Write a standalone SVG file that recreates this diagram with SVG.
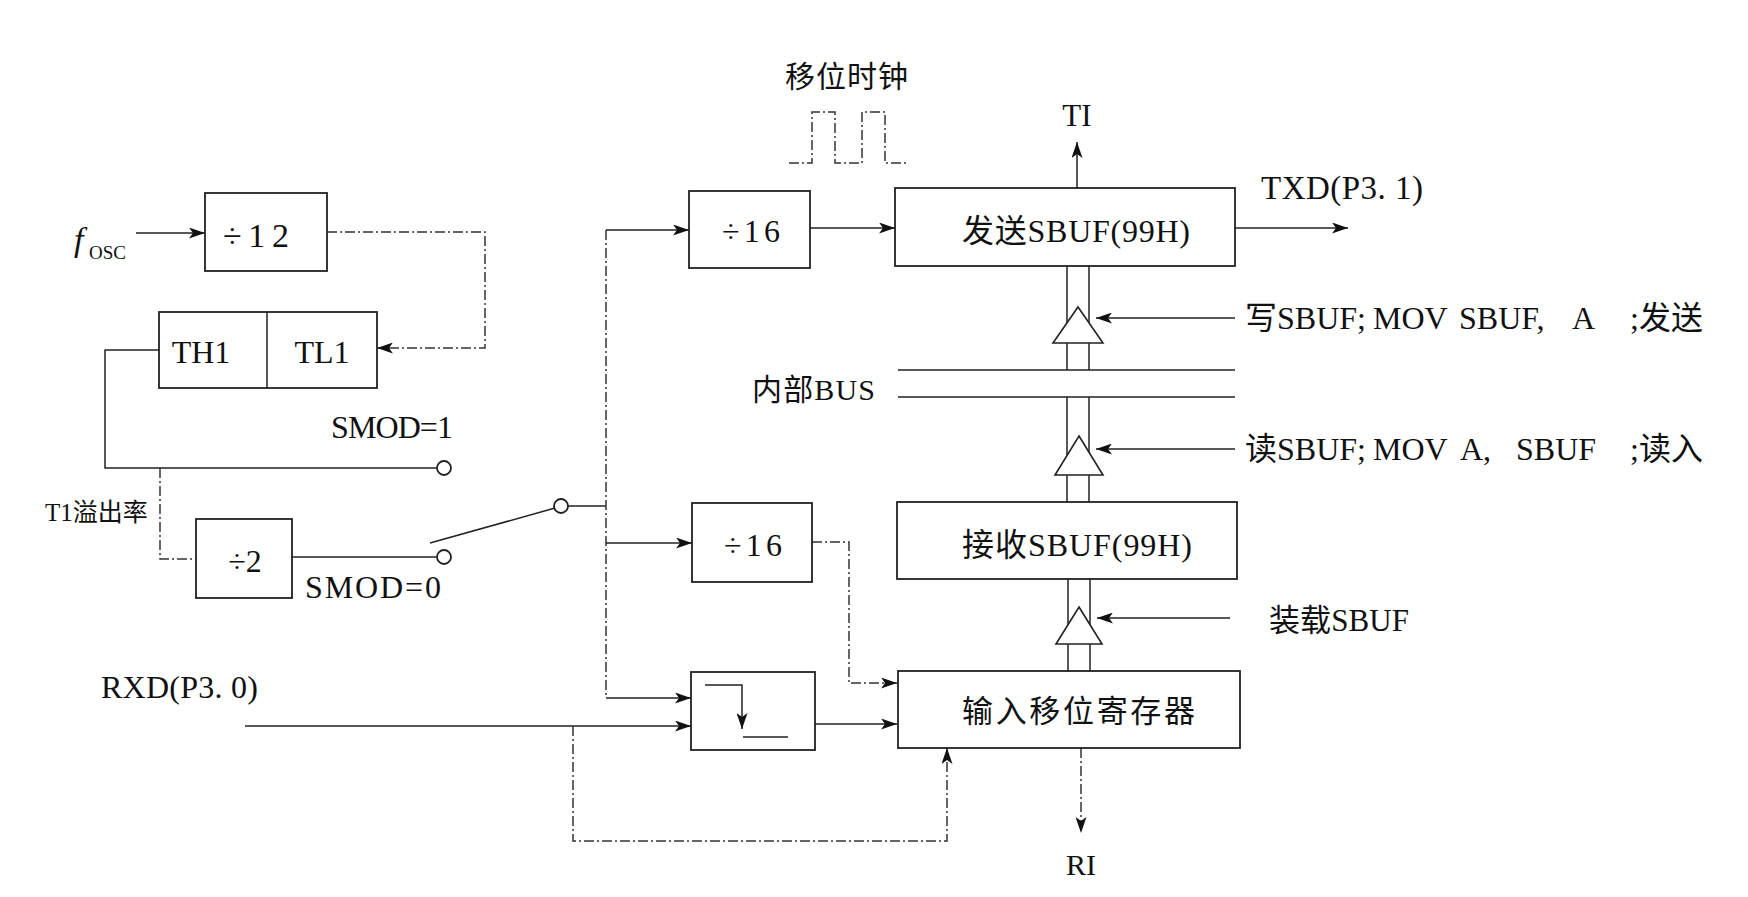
<svg xmlns="http://www.w3.org/2000/svg" width="1748" height="897" viewBox="0 0 1748 897">
<style>
.bx{fill:#fff;stroke:#222;stroke-width:1.8}
.ln{fill:none;stroke:#222;stroke-width:1.5}
.dl{fill:none;stroke:#333;stroke-width:1.5;stroke-dasharray:10 3 2 3}
.ar{marker-end:url(#ah)}
.t{font-family:"Liberation Serif","Noto Sans CJK SC",serif;fill:#111}
.c{text-anchor:middle}
.tri{fill:#fff;stroke:#222;stroke-width:1.6}
.sw{fill:#fff;stroke:#222;stroke-width:1.8}
</style>
<defs>
<marker id="ah" viewBox="0 0 16 11" refX="16" refY="5.5" markerWidth="16" markerHeight="11" markerUnits="userSpaceOnUse" orient="auto"><path d="M0,0 L16,5.5 L0,11 L4,5.5 z" fill="#111"/></marker>
</defs>
<rect width="1748" height="897" fill="#fff"/>

<g id="connectors">
<line class="ln ar" x1="136" y1="233" x2="205" y2="233"/>
<polyline class="dl ar" points="327,232 485,232 485,348 377,348"/>
<polyline class="ln" points="159,350 105,350 105,468 437,468"/>
<polyline class="dl" points="160,468 160,559 196,559"/>
<line class="ln" x1="292" y1="557" x2="437" y2="557"/>
<line class="ln" x1="430" y1="543" x2="555" y2="508"/>
<polyline class="ln" points="568,506 606,506"/>
<line class="dl" x1="606" y1="230" x2="606" y2="698"/>
<line class="ln ar" x1="606" y1="230" x2="689" y2="230"/>
<line class="ln ar" x1="606" y1="543" x2="692" y2="543"/>
<line class="ln ar" x1="606" y1="698" x2="691" y2="698"/>
<line class="ln ar" x1="810" y1="228" x2="895" y2="228"/>
<line class="ln ar" x1="1077" y1="188" x2="1077" y2="142"/>
<line class="ln ar" x1="1235" y1="228" x2="1348" y2="228"/>
<line class="ln ar" x1="1235" y1="318" x2="1096" y2="318"/>
<line class="ln ar" x1="1235" y1="449" x2="1096" y2="449"/>
<line class="ln ar" x1="1230" y1="618" x2="1097" y2="618"/>
<polyline class="dl ar" points="812,542 849,542 849,683 897,683"/>
<line class="ln ar" x1="245" y1="726" x2="691" y2="726"/>
<polyline class="dl ar" points="573,726 573,841 947,841 947,748"/>
<line class="ln ar" x1="815" y1="724" x2="897" y2="724"/>
<line class="dl ar" x1="1081" y1="748" x2="1081" y2="833"/>
<line class="ln" x1="1067" y1="266" x2="1067" y2="370"/>
<line class="ln" x1="1089" y1="266" x2="1089" y2="370"/>
<line class="ln" x1="1067" y1="397" x2="1067" y2="502"/>
<line class="ln" x1="1089" y1="397" x2="1089" y2="502"/>
<line class="ln" x1="1068" y1="579" x2="1068" y2="671"/>
<line class="ln" x1="1090" y1="579" x2="1090" y2="671"/>
<line class="ln" x1="898" y1="370" x2="1235" y2="370"/>
<line class="ln" x1="898" y1="397" x2="1235" y2="397"/>
<polyline class="dl" points="789,163 812,163 812,112 835,112 835,163 862,163 862,112 885,112 885,163 907,163"/>
</g>

<g id="fosc">
<text class="t" x="74" y="251" font-style="italic" style="font-size:34px">f</text>
<text class="t" x="89" y="259" style="font-size:19px">OSC</text>
</g>

<g id="div12">
<rect class="bx" x="205" y="193" width="122" height="78"/>
<text class="t" x="223" y="247" style="font-size:34px" textLength="66">÷12</text>
</g>

<g id="th1tl1">
<rect class="bx" x="159" y="312" width="218" height="76"/>
<line class="ln" x1="267" y1="312" x2="267" y2="388"/>
<text class="t c" x="201" y="363" style="font-size:32px">TH1</text>
<text class="t c" x="322" y="363" style="font-size:32px">TL1</text>
</g>

<g id="t1rate">
<text class="t" x="45" y="521" style="font-size:25px">T1溢出率</text>
</g>

<g id="div2">
<rect class="bx" x="196" y="519" width="96" height="79"/>
<text class="t c" x="245" y="572" style="font-size:32px">÷2</text>
</g>

<g id="switch">
<circle class="sw" cx="444" cy="468" r="7"/>
<circle class="sw" cx="444" cy="557" r="7"/>
<circle class="sw" cx="561" cy="506" r="7"/>
<text class="t" x="331" y="438" style="font-size:32px" textLength="122">SMOD=1</text>
<text class="t" x="305" y="598" style="font-size:32px" textLength="136">SMOD=0</text>
</g>

<g id="shiftclock">
<text class="t c" x="847" y="87" style="font-size:30px" letter-spacing="1">移位时钟</text>
</g>

<g id="div16a">
<rect class="bx" x="689" y="191" width="121" height="77"/>
<text class="t" x="722" y="242" style="font-size:32px" textLength="58">÷16</text>
</g>

<g id="div16b">
<rect class="bx" x="692" y="503" width="120" height="79"/>
<text class="t" x="724" y="556" style="font-size:32px" textLength="58">÷16</text>
</g>

<g id="detector">
<rect class="bx" x="691" y="672" width="124" height="78"/>
<polyline class="ln ar" points="705,685 742,685 742,729"/>
<line class="ln" x1="743" y1="737" x2="788" y2="737"/>
</g>

<g id="txsbuf">
<rect class="bx" x="895" y="188" width="340" height="78"/>
<text class="t" x="962" y="242" style="font-size:32px" textLength="228">发送SBUF(99H)</text>
</g>

<g id="ti">
<text class="t c" x="1077" y="126" style="font-size:31px">TI</text>
</g>

<g id="txd">
<text class="t" x="1261" y="199" style="font-size:33px" textLength="162">TXD(P3. 1)</text>
</g>

<g id="gate1">
<polygon class="tri" points="1078,307 1103,343 1053,343"/>
<text class="t" y="329" style="font-size:32px"><tspan x="1245">写SBUF;</tspan><tspan x="1373">MOV </tspan><tspan x="1459">SBUF, </tspan><tspan x="1572">A </tspan><tspan x="1630">;发送</tspan></text>
</g>

<g id="bus">
<text class="t" x="752" y="400" style="font-size:30px" textLength="123">内部BUS</text>
</g>

<g id="gate2">
<polygon class="tri" points="1079,436 1103,475 1055,475"/>
<text class="t" y="460" style="font-size:32px"><tspan x="1245">读SBUF;</tspan><tspan x="1373">MOV </tspan><tspan x="1460">A, </tspan><tspan x="1516">SBUF </tspan><tspan x="1630">;读入</tspan></text>
</g>

<g id="rxsbuf">
<rect class="bx" x="897" y="502" width="340" height="77"/>
<text class="t" x="962" y="556" style="font-size:32px" textLength="230">接收SBUF(99H)</text>
</g>

<g id="gate3">
<polygon class="tri" points="1079,607 1102,644 1056,644"/>
<text class="t" x="1269" y="631" style="font-size:31px" textLength="140">装载SBUF</text>
</g>

<g id="shiftreg">
<rect class="bx" x="898" y="671" width="342" height="77"/>
<text class="t" x="962" y="722" style="font-size:31px" textLength="233">输入移位寄存器</text>
</g>

<g id="rxd">
<text class="t" x="101" y="698" style="font-size:32px" textLength="157">RXD(P3. 0)</text>
</g>

<g id="ri">
<text class="t c" x="1081" y="875" style="font-size:30px">RI</text>
</g>
</svg>
